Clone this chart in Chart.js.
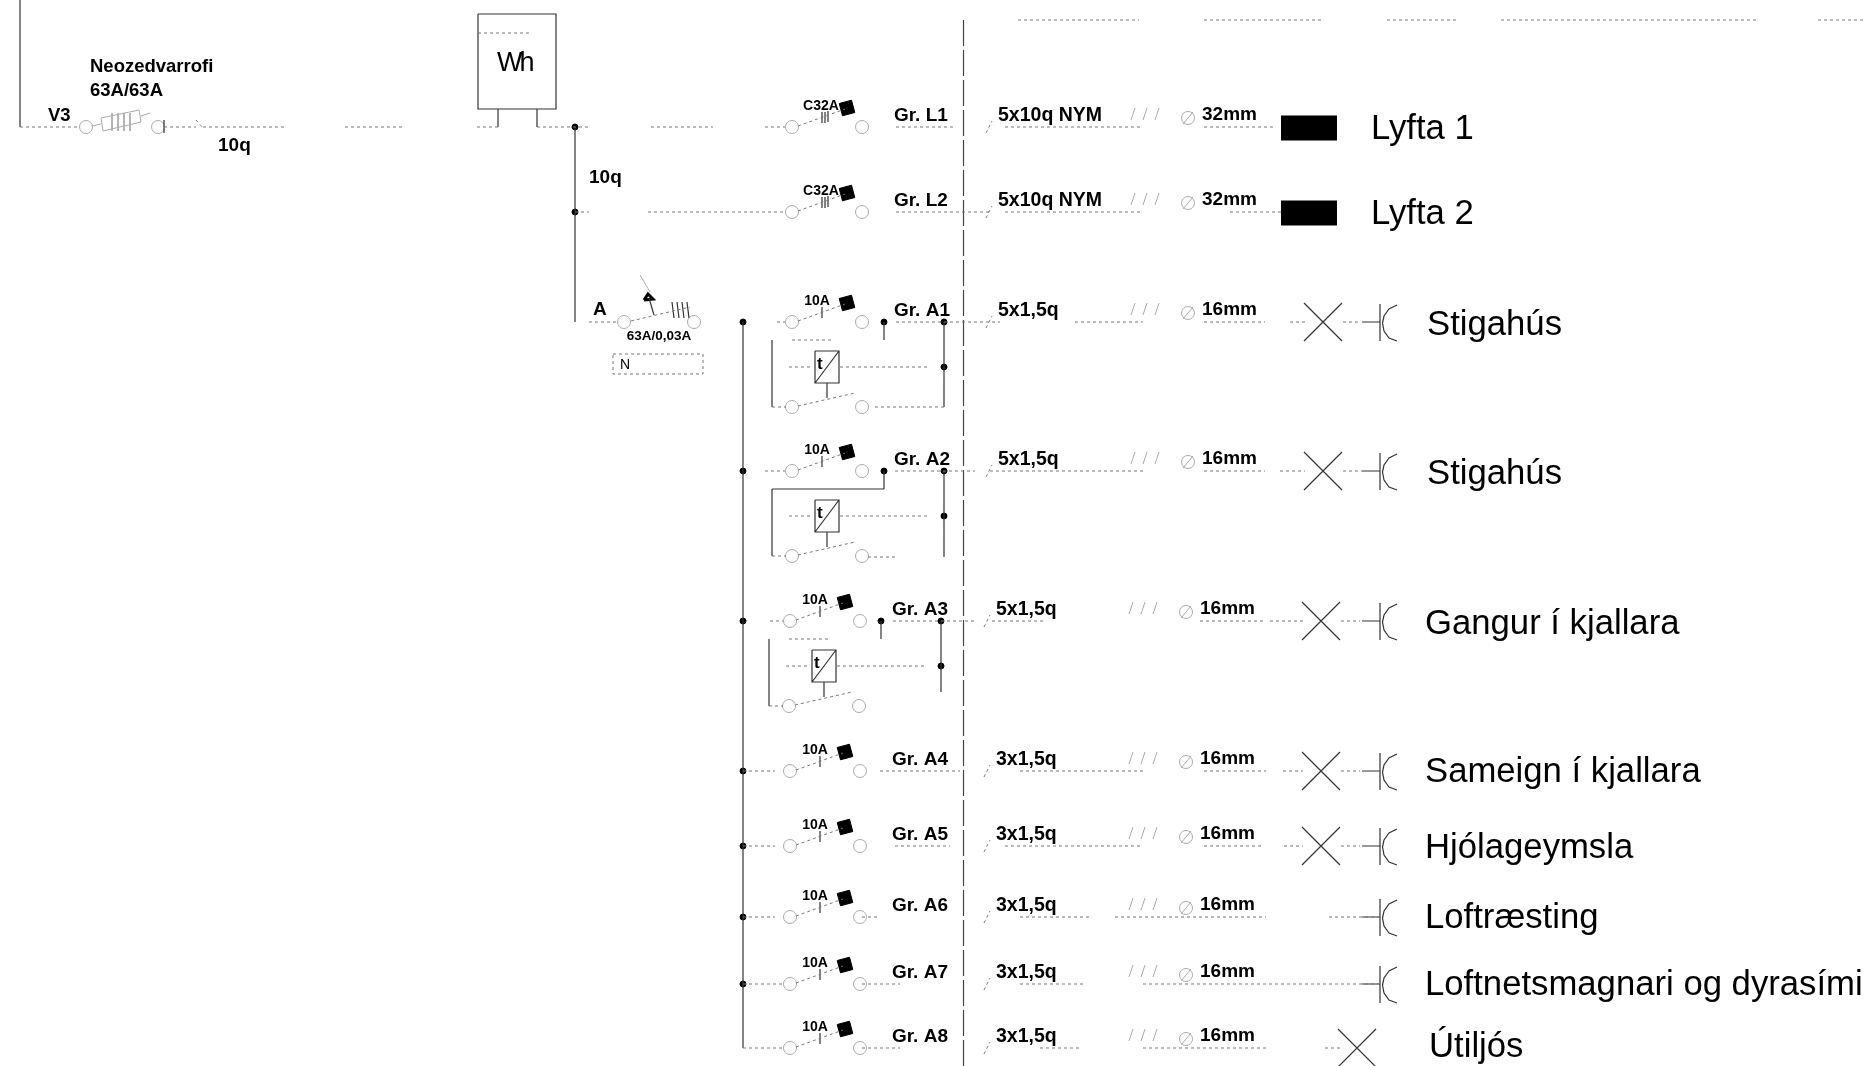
<!DOCTYPE html>
<html lang="is">
<head>
<meta charset="UTF-8">
<title>Einlínumynd</title>
<script src="https://cdn.jsdelivr.net/npm/chart.js"></script>
<style>
  html, body { margin: 0; padding: 0; background: #fff; overflow: hidden; }
  canvas { display: block; }
</style>
</head>
<body>
<canvas id="schematic" width="1865" height="1066"></canvas>
<script>
// group table, one entry per row of the diagram
const groupNames = ['Gr. L1', 'Gr. L2', 'Gr. A1', 'Gr. A2', 'Gr. A3', 'Gr. A4', 'Gr. A5', 'Gr. A6', 'Gr. A7', 'Gr. A8'];
const breakerRatings = ['C32A', 'C32A', '10A', '10A', '10A', '10A', '10A', '10A', '10A', '10A'];
const cableTypes = ['5x10q NYM', '5x10q NYM', '5x1,5q', '5x1,5q', '5x1,5q', '3x1,5q', '3x1,5q', '3x1,5q', '3x1,5q', '3x1,5q'];
const conduitSizes = ['32mm', '32mm', '16mm', '16mm', '16mm', '16mm', '16mm', '16mm', '16mm', '16mm'];
const loadNames = ['Lyfta 1', 'Lyfta 2', 'Stigahús', 'Stigahús', 'Gangur í kjallara', 'Sameign í kjallara', 'Hjólageymsla', 'Loftræsting', 'Loftnetsmagnari og dyrasími', 'Útiljós'];
const loadKinds = ['lift', 'lift', 'both', 'both', 'both', 'both', 'both', 'socket', 'socket', 'lamp'];

// values, in drawing units
const rowY = [127, 212, 322, 471, 621, 771, 846, 917, 984, 1048];
const rowDrift = [0, 0, 0, 0, -2, -2, -2, -2, -2, -2];
const loadTextX = [1371, 1371, 1427, 1427, 1425, 1425, 1425, 1425, 1425, 1429];
const loadTextY = [129, 214, 325, 474, 624, 772, 848, 918, 985, 1047];
const lampX = [0, 0, 1323, 1323, 1321, 1321, 1321, 0, 0, 1357];
const timerRows = [2, 3, 4];
const rowWires = [
  [[651, 713], [765, 785], [896, 953], [1005, 1143], [1204, 1273]],
  [[648, 785], [896, 990], [1005, 1143], [1230, 1281]],
  [[777, 785], [896, 1000], [1075, 1143], [1204, 1265], [1290, 1305], [1343, 1360]],
  [[765, 785], [895, 975], [990, 1143], [1204, 1265], [1280, 1305], [1343, 1362]],
  [[770, 783], [893, 975], [992, 1043], [1200, 1265], [1270, 1303], [1341, 1360]],
  [[743, 775], [880, 960], [1020, 1143], [1204, 1266], [1283, 1303], [1341, 1360]],
  [[743, 775], [895, 950], [1005, 1143], [1204, 1262], [1284, 1303], [1341, 1360]],
  [[743, 775], [862, 880], [1020, 1090], [1115, 1266], [1329, 1380]],
  [[743, 785], [862, 900], [1020, 1085], [1143, 1380]],
  [[743, 785], [862, 900], [1040, 1080], [1143, 1266], [1325, 1340]]
];
const headerDashes = [[1018, 1139], [1204, 1322], [1387, 1457], [1501, 1756], [1818, 1865]];
const feederWires = [[20, 78], [164, 196], [203, 284], [345, 404], [477, 498], [537, 589]];

const firm = [], faint = [], pale = [], heavy = [], centre = [];
const nodes = [], contacts = [], breakers = [], lifts = [];
const labels = [];

function seg(list, ...xy) {
  for (let i = 0; i < xy.length; i += 2) list.push({ x: xy[i], y: xy[i + 1] });
  list.push({ x: null, y: null });
}
function label(text, x, y, font, align) {
  labels.push({ text, x, y, font, align: align || 'left' });
}

function drawLamp(x, y) {
  seg(firm, x - 19, y - 19, x + 19, y + 19);
  seg(firm, x - 19, y + 19, x + 19, y - 19);
}
function drawSocket(y) {
  seg(firm, 1362, y, 1380, y);
  seg(firm, 1380, y - 18, 1380, y + 19);
  seg(firm, 1397, y - 17, 1389, y - 13, 1384, y - 6, 1382.5, y + 1, 1384, y + 9, 1389, y + 16, 1397, y + 19);
}

groupNames.forEach((name, i) => {
  const y = rowY[i], dx = rowDrift[i];
  // breaker
  contacts.push({ x: 792 + dx, y }, { x: 862 + dx, y });
  seg(faint, 798 + dx, y - 1, 845 + dx, y - 18);
  breakers.push({ x: 847 + dx, y: y - 19 });
  seg(firm, 822 + dx, y - 15, 822 + dx, y - 4);
  if (i < 2) {
    seg(firm, 825 + dx, y - 15, 825 + dx, y - 4);
    seg(firm, 828 + dx, y - 16, 828 + dx, y - 5);
  }
  label(breakerRatings[i], (i < 2 ? 821 : 817) + dx, y - 20.5, 'bold 14px "Liberation Sans"', 'center');
  label(name, 894 + dx, y - 11.5, 'bold 19px "Liberation Sans"');

  rowWires[i].forEach(w => seg(faint, w[0], y, w[1], y));
  if (i > 1 && i < 9) nodes.push({ x: 743, y });

  // cable mark, conduit mark
  seg(faint, 986 + dx, y + 6, 992 + dx, y - 6);
  label(cableTypes[i], 998 + dx, y - 11, 'bold 19.5px "Liberation Sans"');
  [1131, 1143, 1155].forEach(x => seg(pale, x + dx, y - 7, x + 4 + dx, y - 19));
  contacts.push({ x: 1188 + dx, y: y - 9 });
  seg(pale, 1183 + dx, y - 3, 1193 + dx, y - 15);
  label(conduitSizes[i], 1202 + dx, y - 12, 'bold 19px "Liberation Sans"');

  // load
  const kind = loadKinds[i];
  if (kind === 'lift') lifts.push({ x: 1281, y: y + 1 }, { x: 1337, y: y + 1 }, { x: null, y: null });
  if (kind === 'both' || kind === 'lamp') drawLamp(lampX[i], y);
  if (kind === 'both' || kind === 'socket') drawSocket(y);
  label(loadNames[i], loadTextX[i], loadTextY[i], '34.7px "Liberation Sans"');
});

// staircase timer relays under A1, A2, A3
timerRows.forEach(i => {
  const y = rowY[i], dx = i === 4 ? -3 : 0;
  nodes.push({ x: 884 + dx, y }, { x: 944 + dx, y }, { x: 944 + dx, y: y + 45 });
  seg(firm, 944 + dx, y, 944 + dx, y + (i === 2 ? 85 : i === 3 ? 86 : 71));
  seg(firm, 884 + dx, y, 884 + dx, y + 18);
  seg(firm, 772 + dx, y + 18, 772 + dx, y + 85);
  if (i === 3) seg(firm, 772, y + 18, 884, y + 18);
  else seg(faint, 792 + dx, y + 18, 832 + dx, y + 18);
  seg(firm, 815 + dx, y + 29, 839 + dx, y + 29, 839 + dx, y + 61, 815 + dx, y + 61, 815 + dx, y + 29);
  seg(firm, 815 + dx, y + 61, 839 + dx, y + 29);
  label('t', 817 + dx, y + 42, 'bold 17px "Liberation Sans"');
  seg(faint, 789 + dx, y + 45, 813 + dx, y + 45);
  seg(faint, 840 + dx, y + 45, 930 + dx, y + 45);
  seg(firm, 827 + dx, y + 61, 827 + dx, y + 76);
  contacts.push({ x: 792 + dx, y: y + 85 }, { x: 862 + dx, y: y + 85 });
  seg(faint, 798 + dx, y + 84, 855 + dx, y + 71);
  seg(faint, 772 + dx, y + 85, 786 + dx, y + 85);
  if (i === 2) {
    seg(faint, 875, y + 85, 944, y + 85);
  } else if (i === 3) {
    seg(faint, 868, y + 86, 897, y + 86);
  }
});

// incoming feeder, fuse and meter
seg(firm, 20, 0, 20, 127);
feederWires.forEach(w => seg(faint, w[0], 127, w[1], 127));
contacts.push({ x: 86, y: 127 }, { x: 158, y: 127 });
seg(pale, 103, 131, 141, 122, 139, 110, 101, 118, 103, 131);
[112, 118, 124, 130].forEach(x => seg(pale, x, 113, x, 131));
seg(pale, 92, 126, 101, 124);
seg(pale, 141, 116, 150, 113);
seg(firm, 164, 120, 164, 133);
seg(faint, 196, 120, 203, 128);
seg(firm, 498, 109, 498, 127);
seg(firm, 537, 109, 537, 127);
seg(firm, 478, 14, 478, 109, 556, 109, 556, 14, 478, 14);
seg(faint, 478, 33, 530, 33);
label('Wh', 497, 64, '27px "Liberation Sans"');
label('V3', 48, 116, 'bold 18.5px "Liberation Sans"');
label('Neozedvarrofi', 90, 67, 'bold 18.5px "Liberation Sans"');
label('63A/63A', 90, 91, 'bold 18.5px "Liberation Sans"');
label('10q', 218, 146, 'bold 19px "Liberation Sans"');

// riser and residual current breaker
seg(firm, 575, 127, 575, 322);
nodes.push({ x: 575, y: 127 }, { x: 575, y: 212 });
seg(faint, 575, 212, 589, 212);
seg(faint, 589, 322, 618, 322);
contacts.push({ x: 624, y: 322 }, { x: 694, y: 322 });
seg(faint, 631, 321, 690, 307);
[672, 677, 682, 687].forEach(x => seg(firm, x, 302, x + 2, 318));
seg(firm, 654, 315, 649, 298);
seg(pale, 640, 275, 650, 292);
seg(heavy, 644, 300, 648, 294, 653, 299, 644, 300);
label('A', 593, 310, 'bold 19px "Liberation Sans"');
label('10q', 589, 178, 'bold 19px "Liberation Sans"');
label('63A/0,03A', 659, 336, 'bold 13.5px "Liberation Sans"', 'center');
seg(faint, 613, 354, 703, 354, 703, 374, 613, 374, 613, 354);
label('N', 620, 365, '14px "Liberation Sans"');

// busbar and panel edge
seg(firm, 743, 322, 743, 1048);
seg(centre, 963.5, 20, 963.5, 1066);

headerDashes.forEach(w => seg(faint, w[0], 20, w[1], 20));

const textPlugin = {
  id: 'schematicText',
  afterDatasetsDraw(chart) {
    const ctx = chart.ctx, sx = chart.scales.x, sy = chart.scales.y;
    ctx.save();
    ctx.fillStyle = '#000';
    ctx.textBaseline = 'middle';
    labels.forEach(l => {
      ctx.font = l.font;
      ctx.textAlign = l.align;
      ctx.letterSpacing = l.text === 'Wh' ? '-3px' : '0px';
      ctx.fillText(l.text, sx.getPixelForValue(l.x), sy.getPixelForValue(l.y));
    });
    ctx.restore();
  }
};

function lineSet(data, color, width, dash) {
  return { data, showLine: true, spanGaps: false, borderColor: color, borderWidth: width, borderDash: dash || [], pointRadius: 0, tension: 0 };
}
function pointSet(data, style, radius, fill, border, rotation) {
  return { data, showLine: false, pointStyle: style, pointRadius: radius, pointBackgroundColor: fill, pointBorderColor: border, pointBorderWidth: 1, pointRotation: rotation || 0 };
}

new Chart(document.getElementById('schematic'), {
  type: 'scatter',
  data: {
    datasets: [
      lineSet(faint, '#777', 1, [3, 3]),
      lineSet(pale, '#aaa', 1),
      lineSet(firm, '#333', 1.2),
      lineSet(centre, '#444', 1.2, [26, 4]),
      lineSet(heavy, '#000', 3),
      lineSet(lifts, '#000', 25),
      pointSet(contacts, 'circle', 6.5, 'rgba(255,255,255,0)', '#aaa'),
      pointSet(nodes, 'circle', 3, '#000', '#000'),
      pointSet(breakers, 'rect', 9, '#000', '#000', -15)
    ]
  },
  options: {
    responsive: false,
    animation: false,
    layout: { padding: 0, autoPadding: false },
    plugins: { legend: { display: false }, tooltip: { enabled: false } },
    scales: {
      x: { type: 'linear', display: false, min: 0, max: 1865 },
      y: { type: 'linear', display: false, min: 0, max: 1066, reverse: true }
    }
  },
  plugins: [textPlugin]
});
</script>
</body>
</html>
